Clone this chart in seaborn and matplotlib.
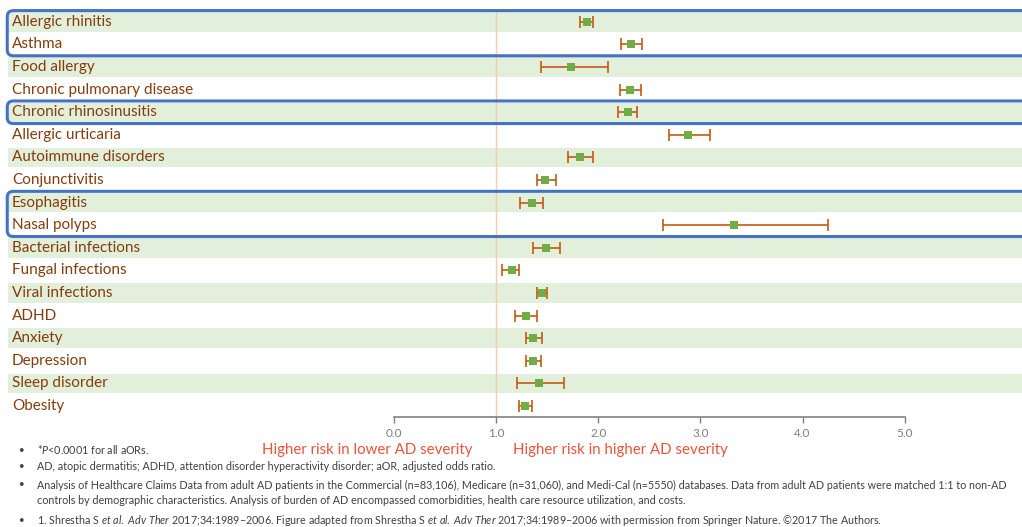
import matplotlib
matplotlib.use("Agg")
import matplotlib.pyplot as plt
import matplotlib.transforms as mtransforms
from matplotlib.patches import FancyBboxPatch
import seaborn as sns
import pandas as pd

# Comorbidity odds ratios
conditions = ["Allergic rhinitis", "Asthma", "Food allergy", "Chronic pulmonary disease",
              "Chronic rhinosinusitis", "Allergic urticaria", "Autoimmune disorders",
              "Conjunctivitis", "Esophagitis", "Nasal polyps", "Bacterial infections",
              "Fungal infections", "Viral infections", "ADHD", "Anxiety", "Depression",
              "Sleep disorder", "Obesity"]
aor = [1.89, 2.32, 1.73, 2.31, 2.29, 2.88, 1.82, 1.48, 1.35, 3.33, 1.49,
       1.15, 1.45, 1.29, 1.36, 1.36, 1.42, 1.28]
ci_low = [1.82, 2.22, 1.44, 2.21, 2.19, 2.69, 1.70, 1.40, 1.23, 2.63, 1.36,
          1.06, 1.40, 1.18, 1.29, 1.29, 1.20, 1.22]
ci_high = [1.95, 2.43, 2.09, 2.42, 2.38, 3.09, 1.95, 1.58, 1.46, 4.25, 1.62,
           1.22, 1.50, 1.40, 1.45, 1.44, 1.66, 1.35]

# rows that are outlined in blue (first row, last row)
highlight_groups = [(0, 1), (4, 4), (8, 9)]

tick_values = [0, 1, 2, 3, 4, 5]
tick_labels = ["0.0", "1.0", "2.0", "3.0", "4.0", "5.0"]

footnotes = [
    ["*$P$<0.0001 for all aORs."],
    ["AD, atopic dermatitis; ADHD, attention disorder hyperactivity disorder; aOR, adjusted odds ratio."],
    ["Analysis of Healthcare Claims Data from adult AD patients in the Commercial (n=83,106), Medicare (n=31,060), and Medi-Cal (n=5550) databases. Data from adult AD patients were matched 1:1 to non-AD",
     "controls by demographic characteristics. Analysis of burden of AD encompassed comorbidities, health care resource utilization, and costs."],
    [r"1. Shrestha S $et\ al.$ $Adv\ Ther$ 2017;34:1989–2006. Figure adapted from Shrestha S $et\ al.$ $Adv\ Ther$ 2017;34:1989–2006 with permission from Springer Nature. ©2017 The Authors."],
]
note_y = [450, 467, 485, 520]

df = pd.DataFrame({"condition": conditions, "aor": aor, "lo": ci_low, "hi": ci_high})
df["row"] = range(len(df))

sns.set_theme(style="white")
plt.rcParams["font.family"] = ["Lato", "DejaVu Sans"]
plt.rcParams["mathtext.fontset"] = "custom"
plt.rcParams["mathtext.rm"] = "Lato"
plt.rcParams["mathtext.it"] = "Lato:italic"

fig = plt.figure(figsize=(10.22, 5.27), dpi=100)
ax = fig.add_axes([0, 0.2082, 1, 0.7717])
ax.set_facecolor("none")

# alternating green bands
for i in range(0, len(df), 2):
    ax.axhspan(i - 0.43, i + 0.43, xmin=8 / 1022, xmax=1, color="#E2EFDA", lw=0, zorder=0)

ax.axvline(1.0, color="#F8CBAD", lw=1, zorder=1)

ax.errorbar(df["aor"], df["row"], xerr=[df["aor"] - df["lo"], df["hi"] - df["aor"]],
            fmt="none", ecolor="#C55A11", elinewidth=1.2, capsize=4.2, capthick=1.2, zorder=2)
sns.scatterplot(data=df, x="aor", y="row", marker="s", s=38, color="#70AD47",
                edgecolor="#70AD47", linewidth=0, ax=ax, zorder=3)

ax.set_xlim(-3.863, 6.150)
ax.set_ylim(len(df) - 0.5, -0.5)
ax.set_xlabel("")
ax.set_ylabel("")
ax.set_yticks([])

lbl_trans = mtransforms.blended_transform_factory(ax.transAxes, ax.transData)
for i, name in enumerate(conditions):
    ax.text(12 / 1022, i, name, transform=lbl_trans, ha="left", va="center",
            color="#843C0C", fontsize=11)

for a, b in highlight_groups:
    box = FancyBboxPatch((-3.792, a - 0.5), 10.3, b - a + 1,
                         boxstyle="round,pad=0,rounding_size=0.06", mutation_aspect=4.4,
                         fill=False, ec="#4472C4", lw=2.2, clip_on=False, zorder=4)
    ax.add_patch(box)

for side in ["top", "left", "right"]:
    ax.spines[side].set_visible(False)
ax.spines["bottom"].set_bounds(0, 5)
ax.spines["bottom"].set_color("#808080")
ax.spines["bottom"].set_linewidth(1.2)
ax.set_xticks(tick_values)
ax.set_xticklabels(tick_labels)
ax.tick_params(axis="x", direction="out", length=4, width=1, color="#808080",
               labelcolor="#7F7F7F", labelsize=8.5, pad=4, bottom=True)

fig.text(472 / 1022, 1 - 450 / 527, "Higher risk in lower AD severity", ha="right",
         va="center", color="#E8553C", fontsize=10.8)
fig.text(513 / 1022, 1 - 450 / 527, "Higher risk in higher AD severity", ha="left",
         va="center", color="#E8553C", fontsize=10.8)

for y, lines in zip(note_y, footnotes):
    fig.text(19 / 1022, 1 - y / 527, "•", ha="left", va="center", color="#404040", fontsize=7)
    for k, line in enumerate(lines):
        fig.text(37 / 1022, 1 - (y + 15 * k) / 527, line, ha="left", va="center",
                 color="#404040", fontsize=7.72)

fig.savefig("out.png", dpi=100)
